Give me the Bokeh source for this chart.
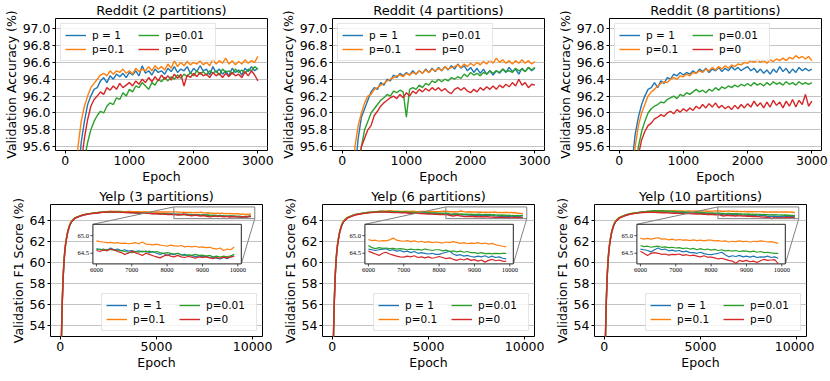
from bokeh.plotting import figure
from bokeh.layouts import column, row
from bokeh.models import Range1d, FixedTicker, PrintfTickFormatter
from bokeh.embed import file_html
from bokeh.resources import INLINE

FONT = "DejaVu Sans"
COLORS = ["#1f77b4", "#ff7f0e", "#2ca02c", "#d62728"]
LABELS = ["p = 1", "p=0.1", "p=0.01", "p=0"]

# ---------------- Reddit (epochs every 50) ----------------
reddit_epochs = list(range(0, 3001, 50))

r2_p1 = [80.0, 88.0, 92.0, 94.3, 95.2, 95.65, 95.9, 96.1, 96.2, 96.28,
         96.3, 96.38, 96.42, 96.36, 96.44, 96.4, 96.46, 96.43, 96.47, 96.42,
         96.48, 96.45, 96.5, 96.44, 96.56, 96.47, 96.5, 96.45, 96.52, 96.48,
         96.5, 96.46, 96.53, 96.49, 96.55, 96.48, 96.52, 96.5, 96.55, 96.47,
         96.53, 96.49, 96.56, 96.5, 96.52, 96.45, 96.55, 96.48, 96.52, 96.46,
         96.5, 96.44, 96.53, 96.48, 96.51, 96.45, 96.53, 96.49, 96.55, 96.5,
         96.53]
r2_p01 = [82.0, 89.0, 92.8, 94.8, 95.6, 95.9, 96.08, 96.2, 96.3, 96.35,
          96.4, 96.45, 96.47, 96.44, 96.5, 96.46, 96.5, 96.48, 96.52, 96.47,
          96.5, 96.46, 96.53, 96.49, 96.52, 96.5, 96.55, 96.5, 96.56, 96.52,
          96.55, 96.51, 96.58, 96.53, 96.62, 96.55, 96.6, 96.56, 96.61, 96.57,
          96.6, 96.58, 96.62, 96.57, 96.6, 96.56, 96.64, 96.58, 96.62, 96.59,
          96.65, 96.58, 96.62, 96.57, 96.61, 96.58, 96.63, 96.59, 96.62, 96.6,
          96.67]
r2_p001 = [78.0, 86.0, 90.5, 93.2, 94.5, 95.1, 95.45, 95.65, 95.8, 95.9,
           95.97, 96.02, 96.0, 96.08, 96.12, 96.1, 96.18, 96.16, 96.24, 96.2,
           96.28, 96.25, 96.32, 96.3, 96.36, 96.32, 96.28, 96.36, 96.33, 96.4,
           96.37, 96.42, 96.38, 96.43, 96.4, 96.45, 96.41, 96.46, 96.43, 96.48,
           96.44, 96.5, 96.46, 96.49, 96.45, 96.5, 96.47, 96.5, 96.45, 96.52,
           96.48, 96.5, 96.46, 96.52, 96.48, 96.51, 96.47, 96.52, 96.5, 96.55,
           96.52]
r2_p0 = [79.0, 87.0, 91.5, 93.8, 94.9, 95.4, 95.7, 95.92, 96.08, 96.16,
         96.2, 96.25, 96.22, 96.3, 96.27, 96.32, 96.28, 96.35, 96.3, 96.33,
         96.36, 96.32, 96.38, 96.34, 96.4, 96.36, 96.42, 96.37, 96.43, 96.38,
         96.45, 96.4, 96.44, 96.39, 96.46, 96.41, 96.46, 96.32, 96.45, 96.42,
         96.47, 96.43, 96.48, 96.44, 96.46, 96.42, 96.48, 96.44, 96.47, 96.42,
         96.47, 96.43, 96.48, 96.44, 96.46, 96.42, 96.49, 96.44, 96.5, 96.45,
         96.38]

r4_p1 = [80.0, 88.0, 92.2, 94.5, 95.3, 95.7, 95.95, 96.05, 96.15, 96.25,
         96.3, 96.28, 96.36, 96.33, 96.4, 96.38, 96.45, 96.42, 96.47, 96.44,
         96.48, 96.45, 96.5, 96.46, 96.5, 96.47, 96.52, 96.48, 96.53, 96.49,
         96.54, 96.5, 96.55, 96.51, 96.56, 96.52, 96.58, 96.53, 96.56, 96.5,
         96.54, 96.48, 96.53, 96.47, 96.52, 96.46, 96.5, 96.45, 96.5, 96.47,
         96.52, 96.48, 96.54, 96.49, 96.52, 96.46, 96.53, 96.49, 96.54, 96.5,
         96.53]
r4_p01 = [82.0, 89.0, 93.0, 95.0, 95.6, 95.85, 96.0, 96.12, 96.2, 96.22,
          96.28, 96.3, 96.33, 96.35, 96.38, 96.4, 96.42, 96.44, 96.45, 96.43,
          96.47, 96.45, 96.48, 96.46, 96.5, 96.47, 96.51, 96.48, 96.52, 96.5,
          96.53, 96.5, 96.55, 96.52, 96.54, 96.55, 96.57, 96.54, 96.58, 96.55,
          96.59, 96.56, 96.6, 96.57, 96.61, 96.58, 96.63, 96.59, 96.65, 96.6,
          96.63, 96.59, 96.62, 96.58, 96.62, 96.59, 96.63, 96.59, 96.62, 96.58,
          96.61]
r4_p001 = [78.0, 86.0, 90.5, 93.2, 94.6, 95.3, 95.6, 95.8, 95.9, 96.0,
           96.05, 96.1, 96.15, 96.18, 96.22, 96.2, 96.26, 96.24, 96.27, 96.25,
           95.95, 96.28, 96.3, 96.28, 96.33, 96.3, 96.35, 96.33, 96.38, 96.36,
           96.4, 96.37, 96.4, 96.38, 96.42, 96.4, 96.43, 96.41, 96.46, 96.43,
           96.48, 96.45, 96.47, 96.44, 96.48, 96.46, 96.5, 96.47, 96.5, 96.48,
           96.52, 96.49, 96.5, 96.48, 96.53, 96.5, 96.52, 96.49, 96.54, 96.51,
           96.54]
r4_p0 = [77.0, 85.0, 90.0, 93.0, 94.5, 95.3, 95.6, 95.7, 95.8, 95.85,
         95.97, 96.02, 96.08, 96.12, 96.15, 96.18, 96.2, 96.17, 96.22, 96.18,
         96.24, 96.2, 96.26, 96.23, 96.28, 96.25, 96.29, 96.26, 96.3, 96.27,
         96.3, 96.26, 96.29, 96.25, 96.23, 96.28, 96.3, 96.27, 96.3, 96.26,
         96.24, 96.28, 96.25, 96.3, 96.27, 96.31, 96.28, 96.32, 96.28, 96.33,
         96.3, 96.34, 96.31, 96.36, 96.32, 96.4, 96.33, 96.36, 96.3, 96.34,
         96.33]

r8_p1 = [81.0, 89.0, 93.0, 94.8, 95.4, 95.75, 95.95, 96.1, 96.2, 96.28,
         96.3, 96.36, 96.3, 96.38, 96.35, 96.42, 96.4, 96.46, 96.44, 96.48,
         96.45, 96.48, 96.46, 96.5, 96.47, 96.52, 96.49, 96.53, 96.48, 96.52,
         96.5, 96.54, 96.49, 96.53, 96.5, 96.55, 96.51, 96.54, 96.5, 96.53,
         96.55, 96.5, 96.53, 96.48, 96.52, 96.47, 96.51, 96.46, 96.52, 96.48,
         96.55, 96.49, 96.53, 96.47, 96.52, 96.48, 96.54, 96.5, 96.53, 96.5,
         96.52]
r8_p01 = [80.0, 88.0, 92.3, 94.4, 95.2, 95.6, 95.85, 96.0, 96.1, 96.2,
          96.25, 96.28, 96.32, 96.35, 96.37, 96.36, 96.4, 96.42, 96.4, 96.44,
          96.43, 96.46, 96.44, 96.48, 96.47, 96.5, 96.48, 96.52, 96.5, 96.54,
          96.51, 96.55, 96.52, 96.56, 96.53, 96.57, 96.55, 96.58, 96.57, 96.6,
          96.59, 96.62, 96.6, 96.63, 96.6, 96.62, 96.59, 96.63, 96.61, 96.64,
          96.62, 96.65, 96.62, 96.66, 96.64, 96.68, 96.65, 96.67, 96.64, 96.67,
          96.62]
r8_p001 = [78.0, 86.0, 90.8, 93.4, 94.6, 95.3, 95.6, 95.78, 95.9, 96.0,
           96.05, 96.08, 96.1, 96.13, 96.12, 96.16, 96.18, 96.2, 96.17, 96.22,
           96.2, 96.24, 96.22, 96.25, 96.28, 96.25, 96.27, 96.24, 96.28, 96.26,
           96.3, 96.27, 96.31, 96.29, 96.32, 96.3, 96.33, 96.31, 96.34, 96.32,
           96.35, 96.32, 96.36, 96.33, 96.35, 96.32, 96.36, 96.33, 96.37, 96.34,
           96.36, 96.33, 96.37, 96.34, 96.36, 96.33, 96.37, 96.34, 96.36, 96.34,
           96.36]
r8_p0 = [76.0, 84.0, 89.5, 92.6, 94.2, 95.0, 95.5, 95.68, 95.78, 95.85,
         95.88, 95.93, 95.95, 95.98, 95.96, 96.0, 96.02, 95.99, 96.04, 96.01,
         96.05, 96.02, 96.06, 96.03, 96.08, 96.05, 96.1, 96.06, 96.11, 96.07,
         96.12, 96.06, 96.09, 96.05, 96.08, 96.04, 96.09, 96.05, 96.1, 96.06,
         96.11, 96.07, 96.14, 96.08, 96.12, 96.06, 96.13, 96.07, 96.15, 96.09,
         96.13, 96.06, 96.14, 96.08, 96.16, 96.07, 96.15, 96.1, 96.22, 96.08,
         96.14]

# ---------------- Yelp ----------------
yelp_epochs = ([0, 50, 100, 150, 200, 250, 300, 400, 500, 600, 700, 800]
               + list(range(1000, 5801, 200)) + list(range(6000, 9901, 100)))

y3_p1 = ([20, 51.5, 55.8, 58.4, 60.2, 61.3, 62.0, 63.0, 63.6, 63.95, 64.15, 64.28,
          64.42, 64.55, 64.62, 64.68, 64.72, 64.78, 64.8, 64.84, 64.86, 64.83, 64.85,
          64.82, 64.8, 64.78, 64.79, 64.75, 64.76, 64.72, 64.73, 64.7, 64.71, 64.68, 64.69, 64.65, 64.66]
         + [64.63, 64.6, 64.62, 64.58, 64.65, 64.6, 64.62, 64.57, 64.6, 64.56,
            64.58, 64.55, 64.57, 64.54, 64.56, 64.52, 64.55, 64.5, 64.47, 64.5,
            64.43, 64.48, 64.46, 64.5, 64.45, 64.47, 64.42, 64.44, 64.4, 64.43,
            64.4, 64.42, 64.38, 64.4, 64.36, 64.34, 64.38, 64.35, 64.4, 64.43])
y3_p01 = ([20, 51.8, 56.0, 58.6, 60.3, 61.4, 62.1, 63.05, 63.65, 64.0, 64.18, 64.3,
           64.45, 64.58, 64.65, 64.7, 64.75, 64.8, 64.84, 64.87, 64.9, 64.88, 64.9,
           64.88, 64.87, 64.88, 64.86, 64.87, 64.85, 64.86, 64.84, 64.85, 64.84, 64.85, 64.83, 64.84, 64.85]
          + [64.85, 64.83, 64.82, 64.8, 64.81, 64.79, 64.8, 64.78, 64.79, 64.77,
             64.78, 64.8, 64.77, 64.82, 64.76, 64.75, 64.74, 64.76, 64.73, 64.72,
             64.7, 64.73, 64.71, 64.7, 64.72, 64.68, 64.7, 64.68, 64.7, 64.67,
             64.68, 64.66, 64.67, 64.64, 64.62, 64.65, 64.58, 64.62, 64.6, 64.68])
y3_p001 = ([20, 51.2, 55.6, 58.3, 60.1, 61.2, 62.0, 63.0, 63.6, 63.95, 64.15, 64.3,
            64.44, 64.56, 64.63, 64.7, 64.74, 64.78, 64.82, 64.85, 64.84, 64.86, 64.83,
            64.84, 64.8, 64.79, 64.77, 64.76, 64.74, 64.73, 64.7, 64.69, 64.68, 64.66, 64.65, 64.63, 64.62]
           + [64.6, 64.62, 64.58, 64.61, 64.6, 64.59, 64.57, 64.58, 64.55, 64.53,
              64.52, 64.55, 64.53, 64.56, 64.54, 64.56, 64.53, 64.55, 64.52, 64.5,
              64.52, 64.5, 64.48, 64.5, 64.46, 64.43, 64.46, 64.44, 64.47, 64.44,
              64.45, 64.42, 64.44, 64.4, 64.42, 64.39, 64.42, 64.4, 64.43, 64.47])
y3_p0 = ([20, 51.0, 55.5, 58.2, 60.0, 61.2, 61.95, 62.95, 63.55, 63.9, 64.12, 64.26,
          64.42, 64.55, 64.62, 64.68, 64.72, 64.76, 64.8, 64.84, 64.82, 64.85, 64.82,
          64.8, 64.78, 64.79, 64.75, 64.74, 64.72, 64.7, 64.7, 64.67, 64.66, 64.64, 64.63, 64.6, 64.6]
         + [64.58, 64.55, 64.6, 64.57, 64.62, 64.6, 64.55, 64.52, 64.47, 64.5,
            64.56, 64.52, 64.48, 64.44, 64.5, 64.47, 64.43, 64.4, 64.37, 64.42,
            64.46, 64.42, 64.4, 64.44, 64.4, 64.38, 64.41, 64.39, 64.36, 64.4,
            64.38, 64.4, 64.37, 64.35, 64.38, 64.36, 64.39, 64.37, 64.4, 64.41])

y6_p1 = ([20, 51.3, 55.7, 58.4, 60.2, 61.3, 62.0, 63.0, 63.6, 63.95, 64.15, 64.3,
          64.45, 64.58, 64.66, 64.72, 64.76, 64.8, 64.83, 64.86, 64.85, 64.88, 64.85,
          64.84, 64.82, 64.83, 64.8, 64.78, 64.77, 64.75, 64.74, 64.72, 64.7, 64.69, 64.67, 64.66, 64.64]
         + [64.62, 64.6, 64.58, 64.6, 64.62, 64.63, 64.58, 64.6, 64.56, 64.58,
            64.54, 64.56, 64.52, 64.55, 64.5, 64.52, 64.5, 64.48, 64.5, 64.47,
            64.47, 64.5, 64.53, 64.56, 64.48, 64.44, 64.46, 64.42, 64.44, 64.41,
            64.39, 64.42, 64.4, 64.43, 64.38, 64.42, 64.38, 64.4, 64.36, 64.34])
y6_p01 = ([20, 51.6, 55.9, 58.5, 60.3, 61.4, 62.1, 63.05, 63.65, 64.0, 64.2, 64.32,
           64.47, 64.6, 64.68, 64.73, 64.78, 64.82, 64.85, 64.88, 64.9, 64.92, 64.95,
           64.9, 64.92, 64.89, 64.9, 64.88, 64.9, 64.87, 64.89, 64.88, 64.87, 64.89, 64.87, 64.88, 64.9]
          + [64.89, 64.86, 64.87, 64.84, 64.86, 64.85, 64.88, 64.93, 64.87, 64.85,
             64.84, 64.86, 64.83, 64.85, 64.82, 64.84, 64.81, 64.83, 64.8, 64.82,
             64.81, 64.79, 64.82, 64.8, 64.83, 64.81, 64.78, 64.8, 64.77, 64.79,
             64.78, 64.8, 64.77, 64.79, 64.76, 64.78, 64.74, 64.72, 64.7, 64.68])
y6_p001 = ([20, 51.2, 55.6, 58.3, 60.1, 61.2, 62.0, 63.0, 63.6, 63.95, 64.15, 64.3,
            64.46, 64.58, 64.66, 64.72, 64.78, 64.82, 64.85, 64.88, 64.9, 64.87, 64.89,
            64.86, 64.87, 64.84, 64.83, 64.82, 64.8, 64.8, 64.78, 64.77, 64.76, 64.75, 64.74, 64.73, 64.72]
           + [64.72, 64.66, 64.63, 64.66, 64.64, 64.65, 64.63, 64.64, 64.62, 64.63,
              64.62, 64.6, 64.62, 64.6, 64.61, 64.59, 64.62, 64.6, 64.58, 64.6,
              64.6, 64.57, 64.59, 64.55, 64.57, 64.54, 64.56, 64.53, 64.55, 64.52,
              64.52, 64.5, 64.52, 64.49, 64.5, 64.49, 64.5, 64.49, 64.5, 64.5])
y6_p0 = ([20, 51.0, 55.5, 58.2, 60.0, 61.1, 61.9, 62.95, 63.55, 63.9, 64.1, 64.25,
          64.42, 64.55, 64.62, 64.68, 64.73, 64.77, 64.8, 64.83, 64.82, 64.84, 64.8,
          64.79, 64.77, 64.75, 64.76, 64.72, 64.7, 64.71, 64.68, 64.66, 64.65, 64.63, 64.61, 64.6, 64.58]
         + [64.56, 64.52, 64.48, 64.44, 64.5, 64.53, 64.48, 64.45, 64.42, 64.4,
            64.39, 64.42, 64.4, 64.43, 64.38, 64.4, 64.37, 64.4, 64.36, 64.38,
            64.41, 64.38, 64.35, 64.37, 64.33, 64.3, 64.34, 64.31, 64.35, 64.3,
            64.32, 64.28, 64.31, 64.25, 64.3, 64.33, 64.29, 64.31, 64.28, 64.27])

y10_p1 = ([20, 51.3, 55.7, 58.4, 60.2, 61.3, 62.0, 63.0, 63.6, 63.95, 64.15, 64.3,
           64.45, 64.58, 64.66, 64.72, 64.78, 64.82, 64.86, 64.88, 64.9, 64.92, 64.88,
           64.86, 64.85, 64.83, 64.82, 64.8, 64.78, 64.77, 64.75, 64.73, 64.72, 64.7, 64.68, 64.66, 64.64]
          + [64.62, 64.6, 64.58, 64.54, 64.6, 64.65, 64.6, 64.62, 64.57, 64.59,
             64.56, 64.58, 64.54, 64.56, 64.52, 64.52, 64.5, 64.53, 64.49, 64.47,
             64.46, 64.48, 64.5, 64.53, 64.46, 64.4, 64.43, 64.41, 64.44, 64.4,
             64.42, 64.39, 64.42, 64.38, 64.4, 64.39, 64.42, 64.38, 64.4, 64.36])
y10_p01 = ([20, 51.6, 55.9, 58.5, 60.3, 61.4, 62.1, 63.05, 63.65, 64.0, 64.2, 64.32,
            64.48, 64.6, 64.7, 64.76, 64.8, 64.85, 64.88, 64.9, 64.93, 64.95, 64.93,
            64.96, 64.94, 64.95, 64.93, 64.94, 64.92, 64.93, 64.92, 64.94, 64.92, 64.93, 64.91, 64.92, 64.93]
           + [64.93, 64.9, 64.92, 64.9, 64.92, 64.94, 64.9, 64.91, 64.88, 64.9,
              64.87, 64.89, 64.87, 64.88, 64.86, 64.88, 64.86, 64.87, 64.85, 64.87,
              64.87, 64.85, 64.86, 64.84, 64.85, 64.82, 64.84, 64.83, 64.85, 64.83,
              64.84, 64.82, 64.84, 64.83, 64.85, 64.84, 64.82, 64.83, 64.81, 64.78])
y10_p001 = ([20, 51.2, 55.6, 58.3, 60.1, 61.2, 62.0, 63.0, 63.6, 63.95, 64.15, 64.3,
             64.46, 64.6, 64.68, 64.74, 64.8, 64.85, 64.88, 64.92, 64.95, 64.93, 64.96,
             64.92, 64.9, 64.88, 64.86, 64.85, 64.83, 64.82, 64.8, 64.79, 64.78, 64.76, 64.75, 64.74, 64.72]
            + [64.72, 64.69, 64.7, 64.67, 64.69, 64.7, 64.67, 64.68, 64.66, 64.67,
               64.65, 64.66, 64.63, 64.65, 64.62, 64.64, 64.6, 64.63, 64.6, 64.62,
               64.59, 64.61, 64.58, 64.6, 64.57, 64.58, 64.56, 64.58, 64.55, 64.57,
               64.56, 64.54, 64.56, 64.53, 64.55, 64.52, 64.53, 64.51, 64.5, 64.5])
y10_p0 = ([20, 51.0, 55.5, 58.2, 60.0, 61.1, 61.9, 62.95, 63.55, 63.9, 64.1, 64.25,
           64.42, 64.55, 64.63, 64.7, 64.75, 64.78, 64.8, 64.82, 64.8, 64.78, 64.76,
           64.77, 64.74, 64.72, 64.73, 64.7, 64.68, 64.69, 64.66, 64.65, 64.63, 64.62, 64.6, 64.59, 64.57]
          + [64.56, 64.5, 64.44, 64.5, 64.52, 64.5, 64.47, 64.48, 64.45, 64.47,
             64.46, 64.48, 64.44, 64.46, 64.43, 64.45, 64.42, 64.4, 64.43, 64.39,
             64.39, 64.37, 64.34, 64.36, 64.33, 64.3, 64.28, 64.21, 64.3, 64.27,
             64.3, 64.26, 64.28, 64.24, 64.29, 64.33, 64.3, 64.31, 64.32, 64.21])

reddit_titles = ["Reddit (2 partitions)", "Reddit (4 partitions)", "Reddit (8 partitions)"]
yelp_titles = ["Yelp (3 partitions)", "Yelp (6 partitions)", "Yelp (10 partitions)"]
reddit_series = [[r2_p1, r2_p01, r2_p001, r2_p0],
                 [r4_p1, r4_p01, r4_p001, r4_p0],
                 [r8_p1, r8_p01, r8_p001, r8_p0]]
yelp_series = [[y3_p1, y3_p01, y3_p001, y3_p0],
               [y6_p1, y6_p01, y6_p001, y6_p0],
               [y10_p1, y10_p01, y10_p001, y10_p0]]

reddit_xticks = [0, 1000, 2000, 3000]
reddit_yticks = [95.6, 95.8, 96.0, 96.2, 96.4, 96.6, 96.8, 97.0]
yelp_xticks = [0, 5000, 10000]
yelp_yticks = [54, 56, 58, 60, 62, 64]
inset_xticks = [6000, 7000, 8000, 9000, 10000]
inset_yticks = [64.5, 65.0]

REDDIT_X = (-150, 3150)
REDDIT_Y = (95.555, 97.12)
YELP_X = (-500, 10500)
YELP_Y = (52.95, 65.55)
INSET_X = (5900, 10100)
INSET_Y = (64.2, 65.32)
INSET_FRAC = (0.2, 0.55, 0.7, 0.3)   # left, bottom, width, height in axes fraction

FRAME_W = 212
FRAME_H = 132
BORDER_L = 50


def make_fig(title, xr, yr, xticks, yticks, yfmt, ylabel, border_r):
    p = figure(x_range=Range1d(*xr), y_range=Range1d(*yr),
               frame_width=FRAME_W, frame_height=FRAME_H,
               output_backend="svg", toolbar_location=None,
               min_border_left=BORDER_L, min_border_right=border_r,
               min_border_top=0, min_border_bottom=0)
    p.title.text = title
    p.title.align = "center"
    p.title.text_font = FONT
    p.title.text_font_size = "13px"
    p.title.text_font_style = "normal"
    p.title.text_color = "black"
    p.title.standoff = 1
    p.outline_line_color = "black"
    p.outline_line_width = 1
    p.outline_line_alpha = 1
    p.xaxis.ticker = FixedTicker(ticks=xticks)
    p.yaxis.ticker = FixedTicker(ticks=yticks)
    p.xaxis.formatter = PrintfTickFormatter(format="%d")
    p.yaxis.formatter = PrintfTickFormatter(format=yfmt)
    p.xaxis.axis_label = "Epoch"
    p.yaxis.axis_label = ylabel
    for ax in (p.xaxis, p.yaxis):
        ax.axis_line_color = None
        ax.major_tick_line_color = "black"
        ax.major_tick_out = 3
        ax.major_tick_in = 0
        ax.minor_tick_line_color = None
        ax.major_label_text_font = FONT
        ax.major_label_text_font_size = "12.5px"
        ax.major_label_text_color = "black"
        ax.major_label_standoff = 2
        ax.axis_label_text_font = FONT
        ax.axis_label_text_font_size = "12.5px"
        ax.axis_label_text_font_style = "normal"
        ax.axis_label_text_color = "black"
        ax.axis_label_standoff = 1
    p.xgrid.visible = False
    p.ygrid.grid_line_color = "#c4c4c4"
    p.ygrid.grid_line_width = 1
    return p


def style_legend(p, loc):
    lg = p.legend[0]
    lg.location = loc
    lg.ncols = 2
    lg.margin = 5
    lg.padding = 4
    lg.spacing = 0
    lg.glyph_width = 21
    lg.glyph_height = 14
    lg.label_height = 14
    lg.label_width = 46
    lg.label_standoff = 6
    lg.label_text_font = FONT
    lg.label_text_font_size = "10.5px"
    lg.label_text_color = "black"
    lg.border_line_color = "#cccccc"
    lg.border_line_width = 1
    lg.background_fill_alpha = 0.8


top = []
for i in range(3):
    p = make_fig(reddit_titles[i], REDDIT_X, REDDIT_Y, reddit_xticks, reddit_yticks,
                 "%.1f", "Validation Accuracy (%)", 10 if i < 2 else 8)
    for s, c, lab in zip(reddit_series[i], COLORS, LABELS):
        p.line(reddit_epochs, s, line_color=c, line_width=1.4, legend_label=lab)
    style_legend(p, "top_left")
    top.append(p)

bottom = []
k0 = yelp_epochs.index(6000)
for i in range(3):
    p = make_fig(yelp_titles[i], YELP_X, YELP_Y, yelp_xticks, yelp_yticks,
                 "%d", "Validation F1 Score (%)", 10 if i < 2 else 8)
    for s, c, lab in zip(yelp_series[i], COLORS, LABELS):
        p.line(yelp_epochs, s, line_color=c, line_width=1.4, legend_label=lab)
    style_legend(p, "bottom_right")

    # inset placement in parent data coordinates
    fx, fy, fw, fh = INSET_FRAC
    bx0 = YELP_X[0] + fx * (YELP_X[1] - YELP_X[0])
    bx1 = YELP_X[0] + (fx + fw) * (YELP_X[1] - YELP_X[0])
    by0 = YELP_Y[0] + fy * (YELP_Y[1] - YELP_Y[0])
    by1 = YELP_Y[0] + (fy + fh) * (YELP_Y[1] - YELP_Y[0])

    # zoom rectangle and connectors
    p.quad(left=[INSET_X[0]], right=[INSET_X[1]], bottom=[INSET_Y[0]], top=[INSET_Y[1]],
           fill_alpha=0, line_color="#808080", line_width=1)
    p.segment(x0=[INSET_X[0], INSET_X[1]], y0=[INSET_Y[1], INSET_Y[0]],
              x1=[bx0, bx1], y1=[by1, by0], line_color="#808080", line_width=1)

    sub = p.subplot(x_source=Range1d(*INSET_X), y_source=Range1d(*INSET_Y),
                    x_target=Range1d(bx0, bx1), y_target=Range1d(by0, by1))
    sub.quad(left=[INSET_X[0]], right=[INSET_X[1]], bottom=[INSET_Y[0]], top=[INSET_Y[1]],
             fill_color="white", line_color="#222222", line_width=1)
    for s, c in zip(yelp_series[i], COLORS):
        sub.line(yelp_epochs[k0:], s[k0:], line_color=c, line_width=1.2)
    sub.ray(x=inset_xticks, y=[INSET_Y[0]] * len(inset_xticks), length=2.5,
            length_units="screen", angle=-1.5707963, line_color="#222222", line_width=0.8)
    sub.ray(x=[INSET_X[0]] * len(inset_yticks), y=inset_yticks, length=2.5,
            length_units="screen", angle=3.14159265, line_color="#222222", line_width=0.8)
    sub.text(x=inset_xticks, y=[INSET_Y[0]] * len(inset_xticks),
             text=[str(t) for t in inset_xticks], text_align="center", text_baseline="top",
             y_offset=4, text_font_size="6.5px", text_font=FONT, text_color="black")
    sub.text(x=[INSET_X[0]] * len(inset_yticks), y=inset_yticks,
             text=["%.1f" % t for t in inset_yticks], text_align="right", text_baseline="middle",
             x_offset=-4, text_font_size="6.5px", text_font=FONT, text_color="black")
    bottom.append(p)

layout = column(row(*top), row(*bottom))
open("out.html", "w").write(file_html(layout, INLINE))
